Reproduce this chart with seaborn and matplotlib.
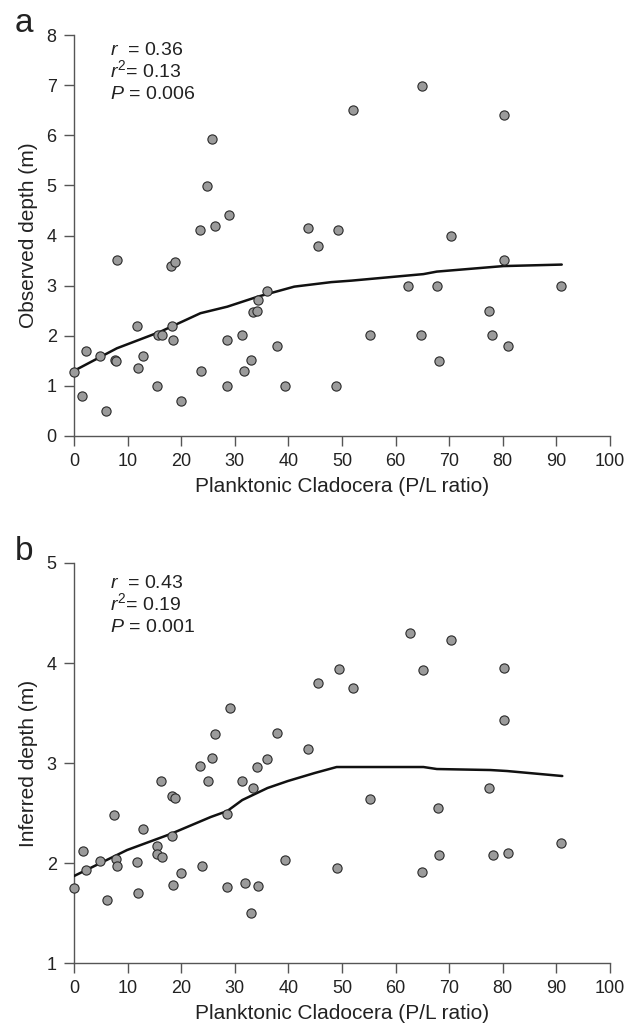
import numpy as np
import pandas as pd
import seaborn as sns
import matplotlib
matplotlib.use("Agg")
import matplotlib.pyplot as plt

# panel a: observed depth vs planktonic cladocera
obs_x = [0.0, 1.5, 2.2, 4.9, 6.0, 7.6, 7.9, 8.0, 11.7, 11.9, 12.9, 15.5, 15.6, 16.4,
         18.2, 18.1, 18.9, 18.4, 20.0, 23.5, 23.7, 24.9, 25.7, 26.3, 28.5, 28.5,
         29.0, 31.4, 31.8, 33.0, 33.4, 34.2, 34.3, 36.1, 37.9, 39.3, 43.6, 45.6,
         48.9, 49.3, 52.0, 65.0, 80.2, 70.3, 80.2, 62.4, 67.8, 90.8, 77.4, 55.3,
         64.8, 78.0, 80.9, 68.1]
obs_y = [1.27, 0.80, 1.70, 1.60, 0.50, 1.52, 1.50, 3.51, 2.19, 1.35, 1.60, 1.00, 2.01, 2.01,
         2.19, 3.39, 3.47, 1.91, 0.70, 4.10, 1.30, 4.99, 5.92, 4.19, 1.00, 1.91,
         4.41, 2.01, 1.30, 1.52, 2.47, 2.50, 2.71, 2.90, 1.80, 1.00, 4.14, 3.80,
         1.00, 4.10, 6.50, 6.99, 6.40, 4.00, 3.51, 2.99, 2.99, 2.99, 2.49, 2.01,
         2.01, 2.01, 1.79, 1.50]
obs_fit_x = [0.0, 8.0, 16.1, 23.6, 28.6, 34.3, 41.1, 48.0, 51.8, 65.2, 67.7, 80.1, 91.0]
obs_fit_y = [1.30, 1.75, 2.08, 2.45, 2.58, 2.78, 2.98, 3.07, 3.10, 3.23, 3.28, 3.39, 3.42]

# panel b: inferred depth vs planktonic cladocera
inf_x = [0.0, 1.6, 2.2, 4.9, 6.1, 7.5, 7.8, 8.0, 11.8, 12.0, 12.9, 15.5, 15.5, 16.4,
         16.2, 18.2, 18.9, 18.2, 18.4, 20.0, 23.5, 23.8, 25.0, 25.8, 26.3, 28.6,
         28.6, 29.1, 31.4, 31.9, 33.4, 33.0, 34.2, 34.4, 36.1, 37.9, 39.3, 43.6,
         45.6, 49.0, 49.4, 52.0, 62.6, 70.4, 65.1, 80.3, 80.3, 55.3, 77.4, 67.9,
         90.8, 68.1, 78.1, 80.9, 64.9]
inf_y = [1.75, 2.12, 1.93, 2.02, 1.63, 2.48, 2.04, 1.97, 2.01, 1.70, 2.34, 2.17, 2.09, 2.06,
         2.82, 2.67, 2.65, 2.27, 1.78, 1.90, 2.97, 1.97, 2.82, 3.05, 3.29, 2.49,
         1.76, 3.55, 2.82, 1.80, 2.75, 1.50, 2.96, 1.77, 3.04, 3.30, 2.03, 3.14,
         3.80, 1.95, 3.94, 3.75, 4.30, 4.23, 3.93, 3.95, 3.43, 2.64, 2.75, 2.55,
         2.20, 2.08, 2.08, 2.10, 1.91]
inf_fit_x = [0.0, 9.9, 18.0, 25.5, 28.6, 31.4, 36.1, 39.9, 44.9, 49.0, 65.2, 67.7, 77.7, 80.8, 91.1]
inf_fit_y = [1.87, 2.13, 2.29, 2.46, 2.52, 2.63, 2.75, 2.82, 2.90, 2.96, 2.96, 2.94, 2.93, 2.92, 2.87]

stats_a = ["$r$  = 0.36", "$r^2$= 0.13", "$P$ = 0.006"]
stats_b = ["$r$  = 0.43", "$r^2$= 0.19", "$P$ = 0.001"]

sns.set_style("ticks")
plt.rcParams['font.family'] = ['Liberation Sans', 'DejaVu Sans']
plt.rcParams['mathtext.fontset'] = 'custom'
plt.rcParams['mathtext.rm'] = 'Liberation Sans'
plt.rcParams['mathtext.it'] = 'Liberation Sans:italic'

txt = '#222222'
spine = '#555555'

fig = plt.figure(figsize=(6.34, 10.30), dpi=100)
ax_a = fig.add_axes([0.1167, 0.5767, 0.8454, 0.3893])
ax_b = fig.add_axes([0.1167, 0.0650, 0.8454, 0.3884])

panels = [
    (ax_a, obs_x, obs_y, obs_fit_x, obs_fit_y, stats_a, 'Observed depth (m)', (0, 8), range(0, 9), 'a', 0.950),
    (ax_b, inf_x, inf_y, inf_fit_x, inf_fit_y, stats_b, 'Inferred depth (m)', (1, 5), range(1, 6), 'b', 0.9375),
]

for ax, x, y, fx, fy, stats, ylab, ylim, yticks, letter, ystat in panels:
    df = pd.DataFrame({'x': x, 'y': y})
    fit = pd.DataFrame({'x': fx, 'y': fy})
    sns.lineplot(data=fit, x='x', y='y', ax=ax, color='#111111', linewidth=1.8,
                 sort=False, zorder=3)
    sns.scatterplot(data=df, x='x', y='y', ax=ax, s=44, color='#9b9b9b',
                    edgecolor='#2a2a2a', linewidth=0.8, zorder=4, clip_on=False)
    ax.set_xlim(0, 100)
    ax.set_ylim(*ylim)
    ax.set_xticks(range(0, 101, 10))
    ax.set_yticks(list(yticks))
    ax.set_xlabel('Planktonic Cladocera (P/L ratio)', fontsize=15, color=txt, labelpad=5)
    ax.set_ylabel(ylab, fontsize=15, color=txt, labelpad=6)
    ax.tick_params(direction='out', length=7.5, width=1.0, color=spine,
                   labelsize=13, labelcolor=txt, pad=5)
    for side in ['left', 'bottom']:
        ax.spines[side].set_color(spine)
        ax.spines[side].set_linewidth(1.0)
    sns.despine(ax=ax)
    # stats block, one line each, ~22 px apart
    for i, line in enumerate(stats):
        ax.annotate(line, xy=(0.067, ystat), xycoords='axes fraction',
                    xytext=(0, -15.8 * i), textcoords='offset points',
                    fontsize=14, color=txt, va='baseline', ha='left')
    ax.text(-0.110, 1.0075, letter, transform=ax.transAxes, fontsize=24, color=txt,
            va='baseline', ha='left')

fig.savefig('out.png', dpi=100)
